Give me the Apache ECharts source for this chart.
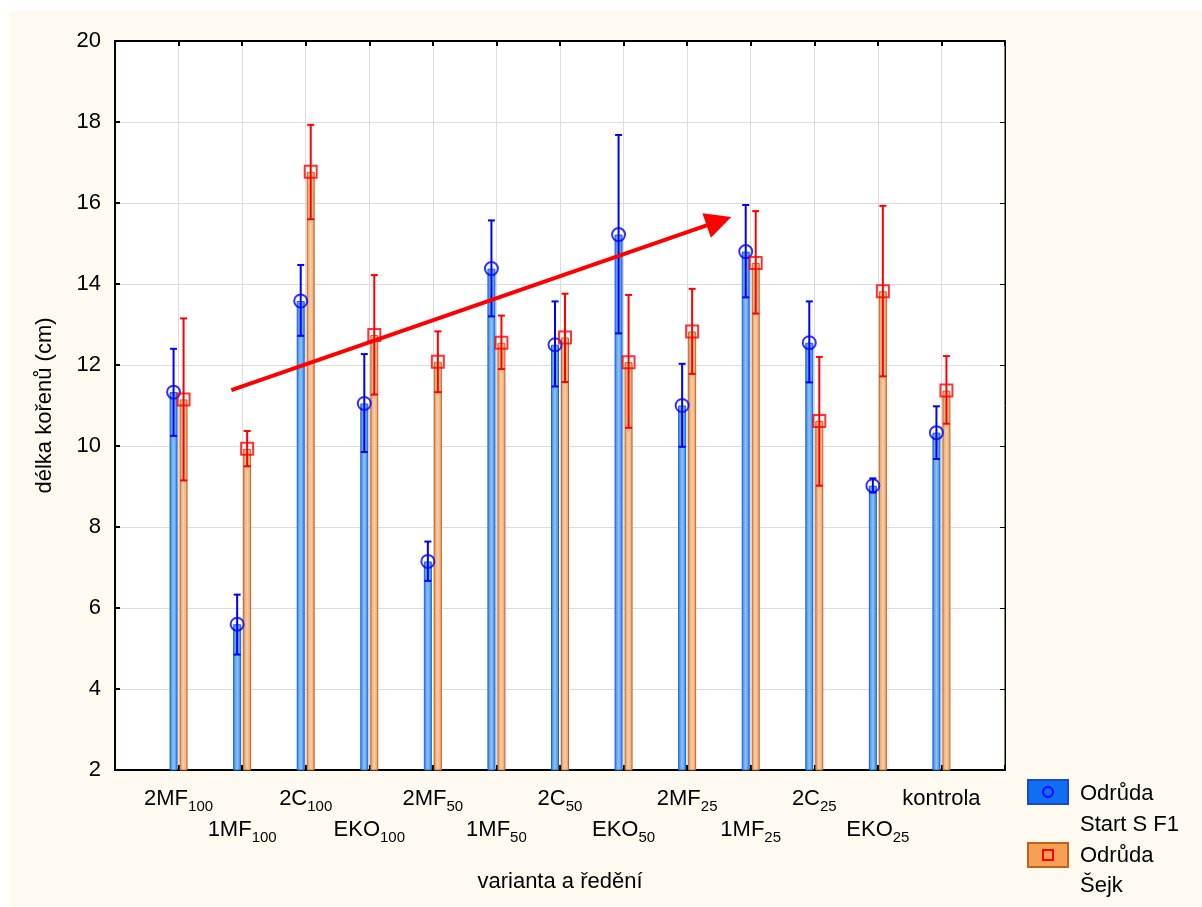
<!DOCTYPE html>
<html>
<head>
<meta charset="utf-8">
<script src="https://cdn.jsdelivr.net/npm/echarts@6/dist/echarts.min.js"></script>
<style>
  html, body { margin: 0; padding: 0; background: #fff; }
  #chart { width: 1202px; height: 907px; }
</style>
</head>
<body>
<div id="chart"></div>
<script>
// x categories (main text + subscript)
const labelMain = ['2MF', '1MF', '2C', 'EKO', '2MF', '1MF', '2C', 'EKO', '2MF', '1MF', '2C', 'EKO', 'kontrola'];
const labelSub = ['100', '100', '100', '100', '50', '50', '50', '50', '25', '25', '25', '25', ''];

// Odrůda Start S F1
const startMean = [11.33, 5.60, 13.58, 11.05, 7.15, 14.38, 12.50, 15.22, 11.00, 14.80, 12.55, 9.02, 10.33];
const startLow  = [10.25, 4.85, 12.72, 9.85, 6.67, 13.20, 11.47, 12.78, 9.98, 13.67, 11.57, 8.85, 9.68];
const startHigh = [12.40, 6.33, 14.47, 12.27, 7.64, 15.57, 13.57, 17.68, 12.03, 15.95, 13.57, 9.20, 10.98];

// Odrůda Šejk
const sejkMean = [11.15, 9.93, 16.77, 12.74, 12.08, 12.55, 12.68, 12.07, 12.83, 14.52, 10.62, 13.82, 11.37];
const sejkLow  = [9.15, 9.50, 15.60, 11.27, 11.33, 11.90, 11.58, 10.45, 11.78, 13.27, 9.02, 11.72, 10.55];
const sejkHigh = [13.15, 10.37, 17.93, 14.22, 12.83, 13.22, 13.76, 13.73, 13.88, 15.80, 12.20, 15.93, 12.22];

// trend arrow (start, end) in data units
const arrowFrom = [0.83, 11.38];
const arrowTo = [8.5, 15.55];

const yTicks = { min: 2, max: 20, step: 2 };

const font = 'Liberation Sans, Arial, sans-serif';

function pairs(vals) {
  return vals.map((v, i) => [i, v]);
}
function ranges(lo, hi) {
  return lo.map((v, i) => [i, v, hi[i]]);
}

function errorBar(offset, color) {
  return function (params, api) {
    const x = api.value(0);
    const lo = api.coord([x, api.value(1)]);
    const hi = api.coord([x, api.value(2)]);
    const cx = lo[0] + offset;
    const w = 3.5;
    const st = { stroke: color, lineWidth: 2 };
    return {
      type: 'group',
      children: [
        { type: 'line', shape: { x1: cx, y1: lo[1], x2: cx, y2: hi[1] }, style: st },
        { type: 'line', shape: { x1: cx - w, y1: lo[1], x2: cx + w, y2: lo[1] }, style: st },
        { type: 'line', shape: { x1: cx - w, y1: hi[1], x2: cx + w, y2: hi[1] }, style: st }
      ]
    };
  };
}

const blueFill = new echarts.graphic.LinearGradient(0, 0, 1, 0, [
  { offset: 0, color: '#2f80ea' },
  { offset: 0.5, color: '#8cc4f8' },
  { offset: 1, color: '#2f80ea' }
]);
const orangeFill = new echarts.graphic.LinearGradient(0, 0, 1, 0, [
  { offset: 0, color: '#e8965a' },
  { offset: 0.5, color: '#f9cfa8' },
  { offset: 1, color: '#e8965a' }
]);

const axisLineStyle = { color: '#000', width: 2 };

const option = {
  animation: false,
  backgroundColor: '#ffffff',
  textStyle: { fontFamily: font },
  grid: {
    left: 115, top: 41, right: 197, bottom: 137,
    show: true,
    backgroundColor: '#ffffff',
    borderColor: '#000',
    borderWidth: 1
  },
  xAxis: [
    {
      type: 'value',
      min: -1, max: 13, interval: 1,
      name: 'varianta a ředění',
      nameLocation: 'middle',
      nameGap: 101,
      nameTextStyle: { fontSize: 22, color: '#000', fontFamily: font },
      axisLine: { show: true, onZero: false, lineStyle: axisLineStyle },
      axisTick: { show: true, inside: true, length: 5, lineStyle: axisLineStyle },
      splitLine: { show: true, lineStyle: { color: '#dcdcdc', width: 1 } },
      axisLabel: {
        margin: 13,
        showMinLabel: true, showMaxLabel: true,
        formatter: function (v) {
          if (v < 0 || v >= labelMain.length) return '';
          const txt = '{b|' + labelMain[v] + '}' + (labelSub[v] ? '{s|' + labelSub[v] + '}' : '');
          return v % 2 === 0 ? txt : '{b| }\n' + txt;
        },
        rich: {
          b: { fontSize: 22, lineHeight: 31, color: '#000', fontFamily: font },
          s: { fontSize: 15, lineHeight: 31, color: '#000', fontFamily: font, verticalAlign: 'bottom' }
        }
      }
    },
    {
      type: 'value',
      position: 'top',
      min: -1, max: 13, interval: 1,
      axisLine: { show: true, onZero: false, lineStyle: axisLineStyle },
      axisTick: { show: true, inside: true, length: 5, lineStyle: axisLineStyle },
      axisLabel: { show: false },
      splitLine: { show: false }
    }
  ],
  yAxis: [
    {
      type: 'value',
      min: yTicks.min, max: yTicks.max, interval: yTicks.step,
      name: 'délka kořenů (cm)',
      nameLocation: 'middle',
      nameGap: 59,
      nameTextStyle: { fontSize: 22, color: '#000', fontFamily: font },
      axisLine: { show: true, onZero: false, lineStyle: axisLineStyle },
      axisTick: { show: true, inside: true, length: 5, lineStyle: axisLineStyle },
      axisLabel: { fontSize: 22, color: '#000', margin: 14, fontFamily: font },
      splitLine: { show: true, lineStyle: { color: '#dcdcdc', width: 1 } }
    },
    {
      type: 'value',
      position: 'right',
      min: yTicks.min, max: yTicks.max, interval: yTicks.step,
      axisLine: { show: true, onZero: false, lineStyle: { color: '#000', width: 1 } },
      axisTick: { show: true, inside: true, length: 5, lineStyle: { color: '#000', width: 1 } },
      axisLabel: { show: false },
      splitLine: { show: false }
    }
  ],
  graphic: [
    { type: 'rect', z: -100, silent: true, shape: { x: 9, y: 11, width: 1193, height: 896 }, style: { fill: '#fefaf0' } },
    // legend
    { type: 'rect', shape: { x: 1028, y: 780, width: 40, height: 24 }, style: { fill: '#0f6ef2', stroke: '#1a48c8', lineWidth: 2 } },
    { type: 'circle', shape: { cx: 1048, cy: 792, r: 5 }, style: { fill: 'none', stroke: '#0000ff', lineWidth: 2 } },
    { type: 'text', x: 1080, y: 794, style: { text: 'Odrůda', font: '22px ' + font, fill: '#000', textVerticalAlign: 'middle' } },
    { type: 'text', x: 1080, y: 825, style: { text: 'Start S F1', font: '22px ' + font, fill: '#000', textVerticalAlign: 'middle' } },
    { type: 'rect', shape: { x: 1028, y: 843, width: 40, height: 24 }, style: { fill: '#f5a055', stroke: '#c0641c', lineWidth: 2 } },
    { type: 'rect', shape: { x: 1043, y: 850, width: 10, height: 10 }, style: { fill: 'none', stroke: '#ff0000', lineWidth: 2 } },
    { type: 'text', x: 1080, y: 856, style: { text: 'Odrůda', font: '22px ' + font, fill: '#000', textVerticalAlign: 'middle' } },
    { type: 'text', x: 1080, y: 886, style: { text: 'Šejk', font: '22px ' + font, fill: '#000', textVerticalAlign: 'middle' } }
  ],
  series: [
    {
      name: 'Odrůda Start S F1',
      type: 'bar',
      barWidth: 8,
      barGap: '25%',
      clip: true,
      data: pairs(startMean),
      itemStyle: { color: blueFill, borderColor: '#1f62d0', borderWidth: 1 }
    },
    {
      name: 'Odrůda Šejk',
      type: 'bar',
      barWidth: 8,
      barGap: '25%',
      clip: true,
      data: pairs(sejkMean),
      itemStyle: { color: orangeFill, borderColor: '#c0672a', borderWidth: 1 }
    },
    {
      type: 'custom',
      renderItem: errorBar(-5, '#0000ff'),
      encode: { x: 0, y: [1, 2] },
      data: ranges(startLow, startHigh),
      z: 3
    },
    {
      type: 'custom',
      renderItem: errorBar(5, '#ff0000'),
      encode: { x: 0, y: [1, 2] },
      data: ranges(sejkLow, sejkHigh),
      z: 3
    },
    {
      type: 'scatter',
      symbol: 'circle',
      symbolSize: 13,
      symbolOffset: [-5, 0],
      data: pairs(startMean),
      itemStyle: { color: 'rgba(0,0,0,0)', borderColor: '#0000ff', borderWidth: 2 },
      z: 4,
      markLine: {
        silent: true,
        symbol: ['none', 'triangle'],
        symbolSize: 26,
        label: { show: false },
        lineStyle: { color: '#ff0000', width: 4, type: 'solid' },
        data: [[{ coord: arrowFrom }, { coord: arrowTo }]]
      }
    },
    {
      type: 'scatter',
      symbol: 'rect',
      symbolSize: 12,
      symbolOffset: [5, 0],
      data: pairs(sejkMean),
      itemStyle: { color: 'rgba(0,0,0,0)', borderColor: '#ff0000', borderWidth: 2 },
      z: 4
    }
  ]
};

const myChart = echarts.init(document.getElementById('chart'));
myChart.setOption(option);
</script>
</body>
</html>
